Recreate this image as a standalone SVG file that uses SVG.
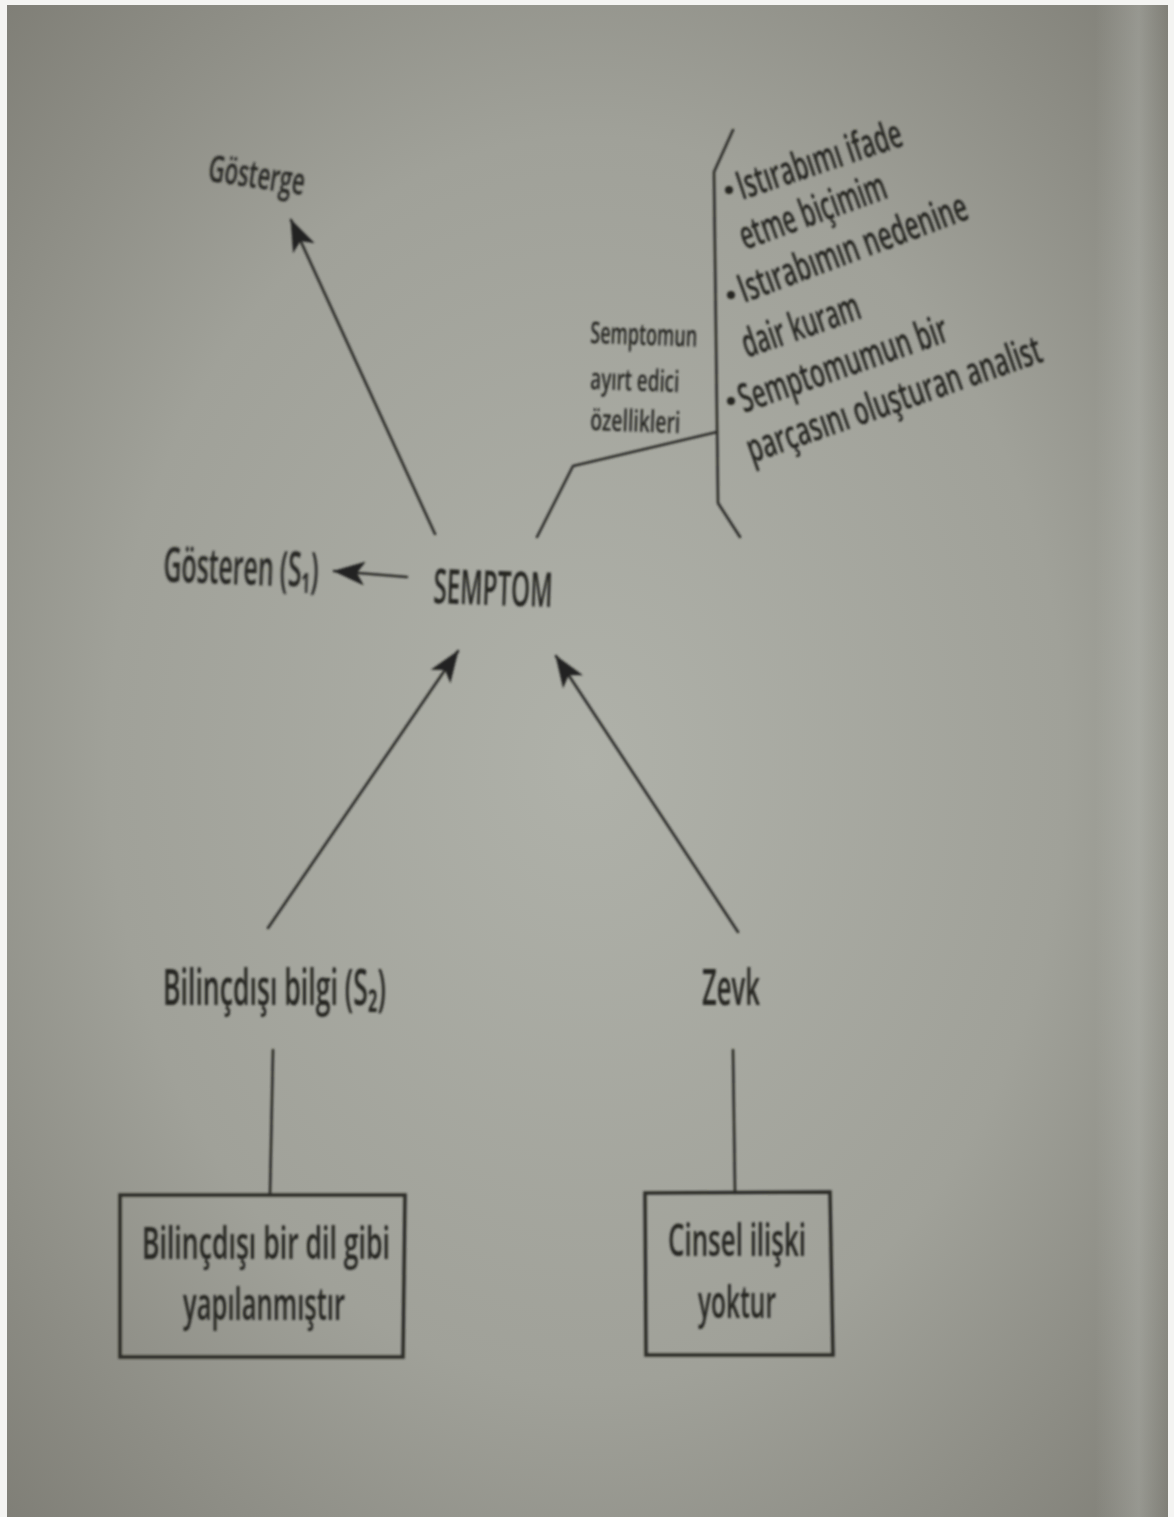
<svg xmlns="http://www.w3.org/2000/svg" width="1174" height="1517" viewBox="0 0 1174 1517">
<defs>
<radialGradient id="bg" cx="0.5" cy="0.5" r="0.75">
<stop offset="0" stop-color="#afb1a9"/>
<stop offset="0.55" stop-color="#a0a199"/>
<stop offset="1" stop-color="#7b7a72"/>
</radialGradient>
<linearGradient id="edge" x1="0" y1="0" x2="1" y2="0">
<stop offset="0" stop-color="#c8cbc6" stop-opacity="0"/>
<stop offset="0.6" stop-color="#c8cbc6" stop-opacity="0.3"/>
<stop offset="1" stop-color="#c8cbc6" stop-opacity="0"/>
</linearGradient>
<filter id="soft" x="-5%" y="-5%" width="110%" height="110%">
<feGaussianBlur stdDeviation="0.8"/>
</filter>
<marker id="ah" viewBox="0 0 32 24" markerWidth="32" markerHeight="24" refX="31" refY="12" orient="auto" markerUnits="userSpaceOnUse">
<path d="M0,0 L32,12 L0,24 L8,12 z" fill="#242422"/>
</marker>
</defs>
<style>
.t{font-family:"Open Sans","Noto Sans","DejaVu Sans",sans-serif;fill:#262624;font-weight:600;}
.ln{stroke:#2b2b28;stroke-width:2.6;fill:none;stroke-linecap:round;stroke-linejoin:round;}
.box{stroke:#2b2b28;stroke-width:3.5;fill:none;}
</style>
<rect x="0" y="0" width="1174" height="1517" fill="#f4f4f2"/>
<rect x="7" y="5" width="1161" height="1512" fill="url(#bg)"/>
<rect x="1095" y="5" width="73" height="1512" fill="url(#edge)"/>
<g filter="url(#soft)">
<g id="connectors">
<line class="ln" x1="435" y1="534" x2="291" y2="220" marker-end="url(#ah)"/>
<line class="ln" x1="407" y1="577" x2="334" y2="571" marker-end="url(#ah)"/>
<line class="ln" x1="268" y1="928" x2="458" y2="651" marker-end="url(#ah)"/>
<line class="ln" x1="738" y1="932" x2="556" y2="656" marker-end="url(#ah)"/>
<path class="ln" d="M537,537 L573,466 L717,432"/>
<path class="ln" d="M733,130 L714,172 L718,503 L740,537"/>
<line class="ln" x1="273" y1="1050" x2="270" y2="1195"/>
<line class="ln" x1="733" y1="1050" x2="735" y2="1193"/>
</g>
<g id="n-semptom">
<text class="t" x="433" y="603" font-size="48" textLength="119" lengthAdjust="spacingAndGlyphs" transform="rotate(2 433 603)">SEMPTOM</text>
</g>
<g id="n-gosterge">
<text class="t" x="207" y="181" font-size="37" textLength="97" lengthAdjust="spacingAndGlyphs" transform="rotate(8.5 207 181)">Gösterge</text>
</g>
<g id="n-gosteren">
<text class="t" x="163" y="582" font-size="48" textLength="155" lengthAdjust="spacingAndGlyphs" transform="rotate(2 163 582)">Gösteren (S₁)</text>
</g>
<g id="n-ozellik">
<text class="t" x="590" y="343" font-size="30" textLength="107" lengthAdjust="spacingAndGlyphs" transform="rotate(2 590 343)">Semptomun</text>
<text class="t" x="590" y="389" font-size="30" textLength="89" lengthAdjust="spacingAndGlyphs" transform="rotate(2 590 389)">ayırt edici</text>
<text class="t" x="590" y="430" font-size="30" textLength="90" lengthAdjust="spacingAndGlyphs" transform="rotate(2 590 430)">özellikleri</text>
</g>
<g id="n-liste">
<circle cx="729" cy="190" r="4" fill="#262624"/>
<text class="t" x="742" y="200" font-size="40" textLength="172" lengthAdjust="spacingAndGlyphs" transform="rotate(-18.6 742 200)">Istırabımı ifade</text>
<text class="t" x="745" y="250" font-size="40" textLength="154" lengthAdjust="spacingAndGlyphs" transform="rotate(-20 745 250)">etme biçimim</text>
<circle cx="731" cy="295" r="4" fill="#262624"/>
<text class="t" x="744" y="303" font-size="40" textLength="242" lengthAdjust="spacingAndGlyphs" transform="rotate(-20.5 744 303)">Istırabımın nedenine</text>
<text class="t" x="747" y="358" font-size="40" textLength="123" lengthAdjust="spacingAndGlyphs" transform="rotate(-19 747 358)">dair kuram</text>
<circle cx="731" cy="401" r="4" fill="#262624"/>
<text class="t" x="744" y="413" font-size="40" textLength="219" lengthAdjust="spacingAndGlyphs" transform="rotate(-19.3 744 413)">Semptomumun bir</text>
<text class="t" x="752" y="463" font-size="40" textLength="310" lengthAdjust="spacingAndGlyphs" transform="rotate(-19.2 752 463)">parçasını oluşturan analist</text>
</g>
<g id="n-bilgi">
<text class="t" x="163" y="1005" font-size="50" textLength="223" lengthAdjust="spacingAndGlyphs">Bilinçdışı bilgi (S₂)</text>
</g>
<g id="n-zevk">
<text class="t" x="702" y="1005" font-size="50" textLength="58" lengthAdjust="spacingAndGlyphs">Zevk</text>
</g>
<g id="n-dil">
<path class="box" d="M120,1195 L405,1195 L403,1357 L120,1357 Z"/>
<text class="t" x="142" y="1259" font-size="45" textLength="248" lengthAdjust="spacingAndGlyphs">Bilinçdışı bir dil gibi</text>
<text class="t" x="183" y="1320" font-size="45" textLength="162" lengthAdjust="spacingAndGlyphs">yapılanmıştır</text>
</g>
<g id="n-cinsel">
<path class="box" d="M645,1193 L830,1192 L833,1355 L646,1355 Z"/>
<text class="t" x="668" y="1256" font-size="45" textLength="138" lengthAdjust="spacingAndGlyphs">Cinsel ilişki</text>
<text class="t" x="698" y="1318" font-size="45" textLength="78" lengthAdjust="spacingAndGlyphs">yoktur</text>
</g>
</g>
</svg>
